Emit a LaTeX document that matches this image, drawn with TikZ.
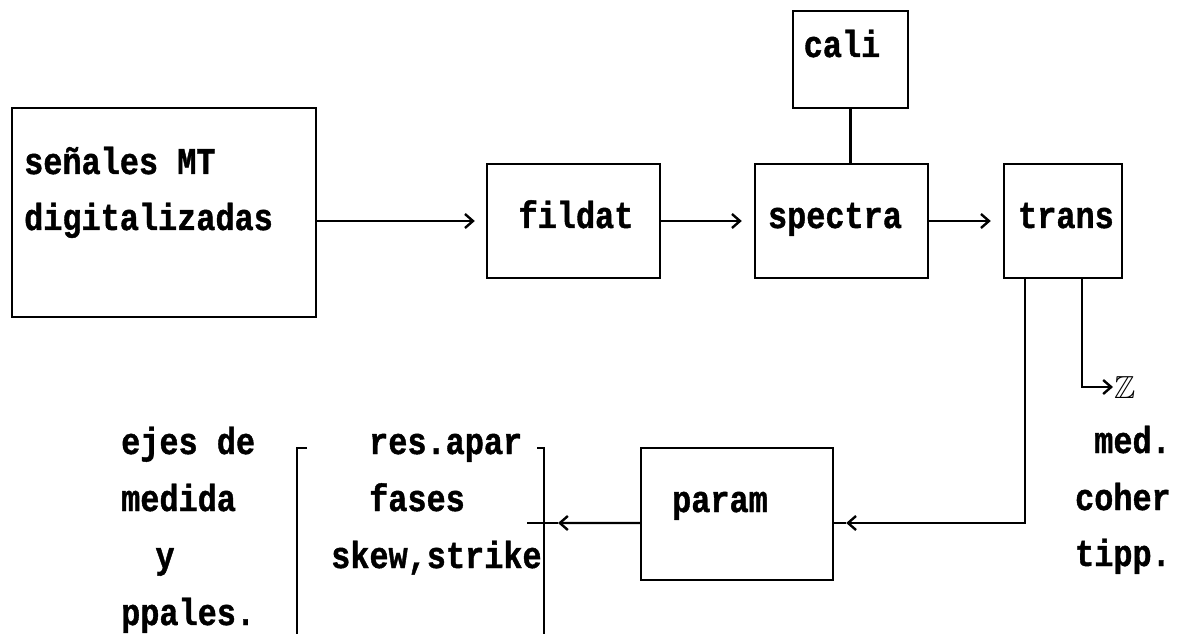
\documentclass[tikz,border=0pt]{standalone}
\usepackage{fontspec}
\usepackage{amssymb}
\newfontfamily\dotfont{Liberation Mono}[BoldFeatures={FakeBold=1.2}]
\usetikzlibrary{arrows.meta}
\newcommand\vs[1]{\scalebox{1}[1.18]{#1}}
\begin{document}
\begin{tikzpicture}[x=1bp,y=-1bp,line width=2.4bp,
  box/.style={draw, line width=2.4bp, inner sep=0pt},
  txt/.style={inner sep=0pt, font=\dotfont\bfseries\fontsize{32}{32}\selectfont},
  arr/.style={-{Straight Barb[length=8bp,width=14bp]}}]
\useasboundingbox (0,0) rectangle (1187,634);
% boxes
\node[box, minimum width=304bp, minimum height=209bp] (sen) at (164,212.5) {};
\node[box, minimum width=173bp, minimum height=114bp] (fil) at (573.5,221) {};
\node[box, minimum width=173bp, minimum height=114bp] (spe) at (841.5,221) {};
\node[box, minimum width=118bp, minimum height=114bp] (tra) at (1063,221) {};
\node[box, minimum width=115bp, minimum height=97bp] (cal) at (850.5,59.5) {};
\node[box, minimum width=192bp, minimum height=132bp] (par) at (737,514) {};
% texts in boxes
\node[txt, anchor=base west] (tsen1) at (23,174) {\vs{señales MT}};
\node[txt, anchor=base west] (tsen2) at (23,230) {\vs{digitalizadas}};
\node[txt, anchor=base] (tfil) at (576,228) {\vs{fildat}};
\node[txt, anchor=base] (tspe) at (835,228) {\vs{spectra}};
\node[txt, anchor=base] (ttra) at (1066,228) {\vs{trans}};
\node[txt, anchor=base] (tcal) at (842,57) {\vs{cali}};
\node[txt, anchor=base] (tpar) at (720,512) {\vs{param}};
% left column
\node[txt, anchor=base west] (l1) at (120,454) {\vs{ejes de}};
\node[txt, anchor=base west] (l2) at (120,511) {\vs{medida}};
\node[txt, anchor=base] (l3) at (165,568) {\vs{y}};
\node[txt, anchor=base west] (l4) at (120,625) {\vs{ppales.}};
% bracket column
\node[txt, anchor=base west] (m1) at (368,454) {\vs{res.apar}};
\node[txt, anchor=base west] (m2) at (368,511) {\vs{fases}};
\node[txt, anchor=base west] (m3) at (330,568) {\vs{skew,strike}};
% right column
\node[txt, anchor=base east] (r1) at (1172,453) {\vs{med.}};
\node[txt, anchor=base east] (r2) at (1172,510) {\vs{coher}};
\node[txt, anchor=base east] (r3) at (1172,566) {\vs{tipp.}};
\node[inner sep=0pt, anchor=base west, font=\fontsize{32}{32}\selectfont] (zz) at (1113,398) {$\mathbb{Z}$};
% brackets
\draw (307,448) -- (297,448) -- (297,634);
\draw (537,448) -- (544,448) -- (544,634);
% connectors
\draw[arr, shorten >=11bp] (sen.east |- fil.west) -- (fil.west);
\draw[arr, shorten >=12bp] (fil) -- (spe);
\draw[arr, shorten >=12bp] (spe) -- (tra);
\draw (cal.south) -- (cal.south |- spe.north);
\coordinate (pin) at ([xshift=12bp, yshift=-9bp]par.east);
\draw[arr] ([xshift=-38bp]tra.south) |- (pin);
\draw (pin) -- ([yshift=-9bp]par.east);
\draw[arr] ([xshift=19bp]tra.south) |- (zz.west);
\coordinate (bk) at (558,523);
\coordinate (bkl) at (527,523);
\draw[arr] ([yshift=-9bp]par.west) -- (bk);
\draw (bk) -- (bkl);
\end{tikzpicture}
\end{document}
